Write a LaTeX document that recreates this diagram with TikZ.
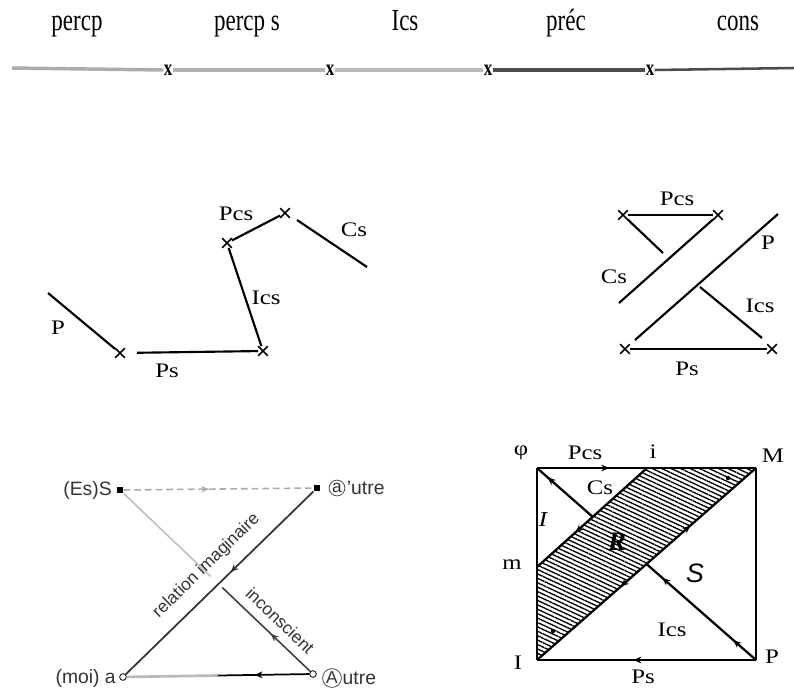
\documentclass[tikz,border=0pt]{standalone}
\usepackage{fontspec}
\setmainfont{Liberation Serif}
\setsansfont{Liberation Sans}
\newfontfamily\wide[FakeStretch=1.2]{Liberation Serif}
\newfontfamily\narrow[FakeStretch=0.75]{Liberation Serif}
\usetikzlibrary{shapes.misc,patterns.meta,decorations.markings,arrows.meta,calc}
\begin{document}
\begin{tikzpicture}[x=0.75pt,y=-0.75pt,
  toplbl/.style={inner sep=0pt, anchor=base, font=\narrow\fontsize{23}{23}\selectfont},
  xmark/.style={inner sep=0pt, font=\narrow\bfseries\fontsize{17}{17}\selectfont},
  lbl/.style={inner sep=0pt, font=\wide\fontsize{15.5}{15.5}\selectfont},
  slbl/.style={inner sep=0pt, font=\sffamily\fontsize{13}{13}\selectfont, text=black!80},
  clbl/.style={inner sep=0pt, font=\sffamily\fontsize{14.5}{14.5}\selectfont, text=black!80},
  circlbl/.style={circle, draw=black!70, line width=0.6pt, inner sep=0.6pt, font=\sffamily\fontsize{13}{13}\selectfont, text=black!80},
  crossmk/.style={cross out, draw, line width=1.3pt, minimum size=6pt, inner sep=0pt},
  thk/.style={line width=1.6pt},
  edge/.style={line width=1.7pt},
  midarrow/.style={postaction={decorate,decoration={markings,
      mark=at position #1 with {\arrow{Stealth[length=6pt,width=5pt]}}}}},
  midarrowr/.style={postaction={decorate,decoration={markings,
      mark=at position #1 with {\arrow{Stealth[length=6pt,width=5pt,reversed]}}}}},
]
\useasboundingbox (0,0) rectangle (794,694);

% ---------- top row ----------
\node[toplbl] (t1) at (77,30) {percp};
\node[toplbl] (t2) at (247,30) {percp s};
\node[toplbl] (t3) at (405,30) {Ics};
\node[toplbl] (t4) at (566,30) {préc};
\node[toplbl] (t5) at (738,30) {cons};
\node[xmark] (x1) at (168,70) {x};
\node[xmark] (x2) at (330,70) {x};
\node[xmark] (x3) at (488,70) {x};
\node[xmark] (x4) at (650,70) {x};
\coordinate (l0) at (12,68);
\coordinate (l5) at (794,68);
\draw[line width=2.6pt, gray!65] (l0) -- (x1.west);
\draw[line width=2.6pt, gray!60] (x1.east) -- (x2.west);
\draw[line width=2.6pt, gray!55] (x2.east) -- (x3.west);
\draw[line width=2.6pt, black!70] (x3.east) -- (x4.west);
\draw[line width=1.9pt, black!70] (x4.east) -- (l5);

% ---------- middle left ----------
\node[crossmk] (a1) at (120,353) {};
\node[crossmk] (a2) at (263,351) {};
\node[crossmk] (a3) at (227,243) {};
\node[crossmk] (a4) at (285,213) {};
\coordinate (pA) at (48,293);
\coordinate (csA) at (297,220);
\coordinate (csB) at (367,267);
\draw[thk] (pA) -- (a1);
\draw[thk, shorten <=9pt] (a1) -- (a2);
\draw[thk] (a2) -- (a3);
\draw[thk] (a3) -- (a4);
\draw[thk] (csA) -- (csB);
\node[lbl] (lP) at (58,328) {P};
\node[lbl] (lPs) at (167,371) {Ps};
\node[lbl] (lIcs) at (266,298) {Ics};
\node[lbl] (lPcs) at (236,214) {Pcs};
\node[lbl] (lCs) at (354,230) {Cs};

% ---------- middle right ----------
\node[crossmk] (b1) at (623,215) {};
\node[crossmk] (b2) at (718,215) {};
\node[crossmk] (b3) at (625,349) {};
\node[crossmk] (b4) at (772,349) {};
\coordinate (bcs) at (619,303);
\coordinate (bq) at (663,253);
\coordinate (bp1) at (778,214);
\coordinate (bp2) at (635,340);
\coordinate (bi1) at (700,287);
\coordinate (bi2) at (762,338);
\draw[thk] (b1) -- (b2);
\draw[thk] (b2) -- (bcs);
\draw[thk] (b1) -- (bq);
\draw[thk] (bp1) -- (bp2);
\draw[thk] (bi1) -- (bi2);
\draw[thk] (b3) -- (b4);
\node[lbl] (rPcs) at (677,199) {Pcs};
\node[lbl] (rCs) at (614,277) {Cs};
\node[lbl] (rP) at (768,243) {P};
\node[lbl] (rIcs) at (760,306) {Ics};
\node[lbl] (rPs) at (687,369) {Ps};

% ---------- bottom left (schema L) ----------
\node[fill, minimum size=5pt, inner sep=0pt] (S) at (120,490) {};
\node[fill, minimum size=5pt, inner sep=0pt] (ap) at (317,488) {};
\node[draw, circle, fill=white, minimum size=5pt, inner sep=0pt, line width=0.6pt] (a) at (123,677) {};
\node[draw, circle, fill=white, minimum size=5pt, inner sep=0pt, line width=0.6pt] (A) at (313,674) {};
\node[clbl, anchor=east] (tS) at (112,490) {(Es)S};
\node[circlbl] (cap) at (337,488) {a};
\node[clbl, anchor=west] (tap) at ([xshift=1pt]cap.east) {'utre};
\node[clbl, anchor=east] (ta) at (116,678) {(moi) a};
\node[circlbl] (cA) at (332,678) {A};
\node[clbl, anchor=west] (tA) at ([xshift=0.5pt]cA.east) {utre};

\draw[gray!65, line width=1.2pt, dash pattern=on 5pt off 3pt, midarrow=0.45] (S) -- (ap);
\draw[black!80, line width=1.3pt, midarrowr=0.59] (a) -- (ap);
\draw[gray!50, line width=1.2pt] (S) -- ($(S)!0.47!(A)$);
\draw[black!75, line width=1.2pt, midarrow=0.45] (A) -- ($(A)!0.47!(S)$);
\draw[gray!55, line width=2pt] (a) -- ($(a)!0.5!(A)$);
\draw[black, line width=1.3pt, midarrow=0.6] (A) -- ($(A)!0.5!(a)$);
\path (a) -- (ap) node[pos=0.51, sloped, above=16pt, slbl, anchor=center] {relation imaginaire};
\path (S) -- (A) node[pos=0.78, sloped, above=12pt, slbl, anchor=center] {inconscient};

% ---------- bottom right (schema R) ----------
\coordinate (phi) at (537,468);
\coordinate (Mc) at (756,468);
\coordinate (Ic) at (537,660);
\coordinate (Pc) at (756,660);
\coordinate (ipt) at (647,468);
\coordinate (mpt) at (537,567);
\fill[pattern={Lines[angle=-25,distance=3pt,line width=1pt]}] (mpt) -- (ipt) -- (Mc) -- (Ic) -- cycle;
\coordinate (c1) at (intersection of phi--Pc and mpt--ipt);
\coordinate (c2) at (intersection of phi--Pc and Ic--Mc);
\draw[edge, midarrow=0.33] (phi) -- (Mc);
\draw[edge] (Mc) -- (Pc);
\draw[edge, midarrow=0.56] (Pc) -- (Ic);
\draw[edge] (Ic) -- (phi);
\draw[edge, midarrow=0.65] (ipt) -- (mpt);
\draw[edge, midarrow=0.70, midarrowr=0.41] (Ic) -- (Mc);
\draw[edge, midarrowr=0.3] (phi) -- (c1);
\draw[edge, midarrowr=0.2, midarrowr=0.85] (c2) -- (Pc);
\fill (728,478) circle (2.2);
\fill (553,631) circle (2.2);

\node[lbl] (nphi) at (521,453) {φ};
\node[lbl] (nPcs) at (585,453) {Pcs};
\node[lbl] (ni) at (653,452) {i};
\node[lbl] (nM) at (773,456) {M};
\node[lbl] (nm) at (512,565) {m};
\node[lbl] (nI) at (518,663) {I};
\node[lbl] (nP) at (772,657) {P};
\node[lbl] (nPs) at (643,677) {Ps};
\node[lbl] (nCs) at (600,488) {Cs};
\node[lbl, font=\wide\itshape\fontsize{16}{16}\selectfont] (nIi) at (543,520) {I};
\node[inner sep=0pt, font=\bfseries\itshape\fontsize{20}{20}\selectfont] (nR) at (617,542) {R};
\node[inner sep=0pt, font=\sffamily\itshape\fontsize{20}{20}\selectfont] (nS) at (695,573) {S};
\node[lbl] (nIcs) at (672,630) {Ics};
\end{tikzpicture}
\end{document}
